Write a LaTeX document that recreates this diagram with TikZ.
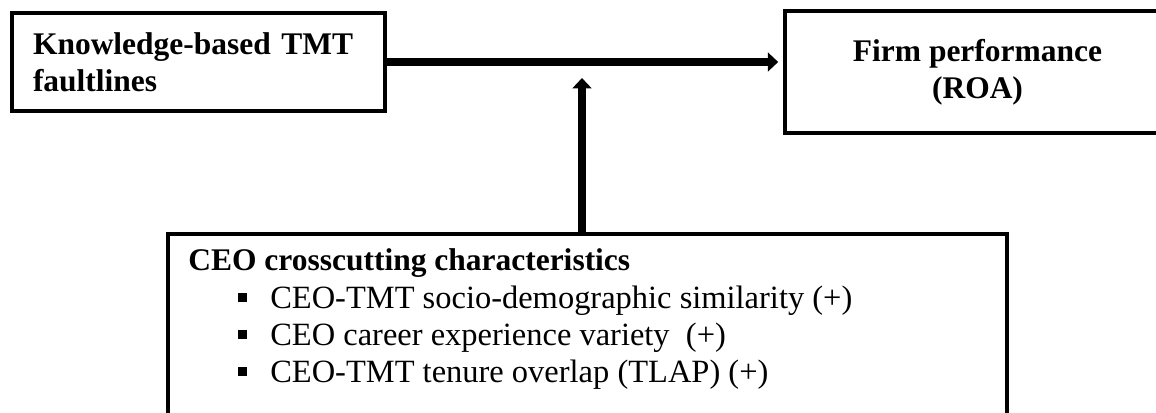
\documentclass[tikz,border=0pt]{standalone}
\usepackage{fontspec}
\setmainfont{Liberation Serif}
\usetikzlibrary{positioning,arrows.meta}

\tikzset{
  box/.style={draw, line width=2.8pt, outer sep=0pt, inner sep=0pt},
  boldtext/.style={font=\fontsize{22.4}{26}\selectfont\bfseries},
  itemtext/.style={font=\fontsize{23.1}{27}\selectfont, inner sep=0pt, anchor=base west},
  flow/.style={line width=5.7pt, -{Triangle[width=0.47cm,length=0.26cm]}},
  sqbullet/.style={fill=black, minimum size=0.225cm, inner sep=0pt},
}

\begin{document}
\begin{tikzpicture}
            \useasboundingbox (0,0) rectangle (28.9,10.3);
            \clip (0,0) rectangle (28.9,10.3);

            % Riquadro per le faultlines
            \node[box, boldtext, minimum width=9.325cm, minimum height=2.45cm,
                  text width=8.275cm, inner xsep=0.525cm, align=left]
                  (fault) at (4.9625,8.75) {Knowledge-based TMT\\faultlines};

            % Riquadro per la performance
            \node[box, boldtext, minimum width=9.625cm, minimum height=3.05cm, align=center]
                  (roa) at (24.4375,8.5) {Firm performance\\(ROA)};

            % Riquadro per le caratteristiche del CEO
            \node[box, anchor=north, minimum width=20.975cm, minimum height=5.65cm]
                  (ceo) at (14.6875,4.45) {};
            \node[boldtext, inner sep=0pt, anchor=base west] (head) at (4.7,3.55)
                  {CEO crosscutting characteristics};

            % Punti elenco
            \node[sqbullet] (b1) at (6.0625,2.875) {};
            \node[itemtext] (i1) at (6.75,2.6) {CEO-TMT socio-demographic similarity (+)};
            \node[sqbullet] (b2) at (6.0625,1.95) {};
            \node[itemtext] (i2) at (6.75,1.675) {CEO career experience variety\ \ (+)};
            \node[sqbullet] (b3) at (6.0625,1.025) {};
            \node[itemtext] (i3) at (6.75,0.75) {CEO-TMT tenure overlap (TLAP) (+)};

            % Frecce
            \coordinate (mod) at (14.55,8.35);
            \draw[flow, shorten >=0.17cm] (fault.east) -- (fault.east -| roa.west);
            \draw[flow] (ceo.north -| mod) -- (mod);
        \end{tikzpicture}
\end{document}
